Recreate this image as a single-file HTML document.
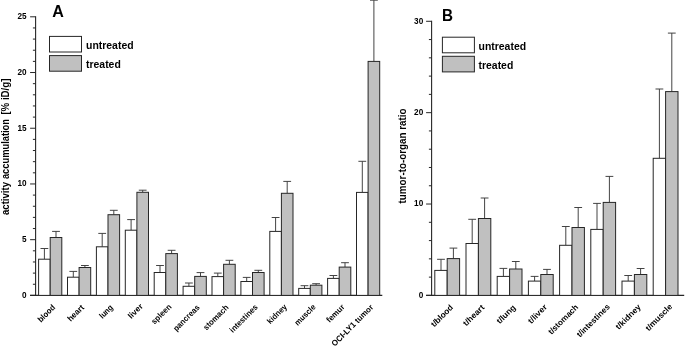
<!DOCTYPE html>
<html><head><meta charset="utf-8"><title>Figure</title>
<style>html,body{margin:0;padding:0;background:#fff}svg{display:block;filter:grayscale(1)}</style></head>
<body>
<svg width="685" height="347" viewBox="0 0 685 347" font-family="Liberation Sans, sans-serif" fill="#000">
<rect width="685" height="347" fill="#fff"/>
<path d="M35.6 16.3V295.4" stroke="#262626" stroke-width="1.1" fill="none"/>
<path d="M30.1 295.4H382.3" stroke="#262626" stroke-width="1.1" fill="none"/>
<path d="M30.1 295.4H35.6M32.9 284.26H35.6M32.9 273.11H35.6M32.9 261.97H35.6M32.9 250.82H35.6M30.1 239.68H35.6M32.9 228.54H35.6M32.9 217.39H35.6M32.9 206.25H35.6M32.9 195.1H35.6M30.1 183.96H35.6M32.9 172.82H35.6M32.9 161.67H35.6M32.9 150.53H35.6M32.9 139.38H35.6M30.1 128.24H35.6M32.9 117.1H35.6M32.9 105.95H35.6M32.9 94.81H35.6M32.9 83.66H35.6M30.1 72.52H35.6M32.9 61.38H35.6M32.9 50.23H35.6M32.9 39.09H35.6M32.9 27.94H35.6M30.1 16.8H35.6" stroke="#262626" stroke-width="1" fill="none"/>
<text x="26.6" y="297.75" text-anchor="end" font-size="8.2" font-weight="bold">0</text>
<text x="26.6" y="242.03" text-anchor="end" font-size="8.2" font-weight="bold">5</text>
<text x="26.6" y="186.31" text-anchor="end" font-size="8.2" font-weight="bold">10</text>
<text x="26.6" y="130.59" text-anchor="end" font-size="8.2" font-weight="bold">15</text>
<text x="26.6" y="74.87" text-anchor="end" font-size="8.2" font-weight="bold">20</text>
<text x="26.6" y="19.15" text-anchor="end" font-size="8.2" font-weight="bold">25</text>
<path d="M44.4 259.2V248.5M40.5 248.5H48.3" stroke="#3a3a3a" stroke-width="0.95" fill="none"/>
<rect x="38.6" y="259.2" width="11.6" height="36.2" fill="#fff" stroke="#262626" stroke-width="1"/>
<path d="M56 237.5V231.4M52.1 231.4H59.9" stroke="#3a3a3a" stroke-width="0.95" fill="none"/>
<rect x="50.2" y="237.5" width="11.6" height="57.9" fill="#c0c0c0" stroke="#262626" stroke-width="1"/>
<path d="M73.3 277.2V271.4M69.4 271.4H77.2" stroke="#3a3a3a" stroke-width="0.95" fill="none"/>
<rect x="67.5" y="277.2" width="11.6" height="18.2" fill="#fff" stroke="#262626" stroke-width="1"/>
<path d="M84.9 267.5V265.5M81 265.5H88.8" stroke="#3a3a3a" stroke-width="0.95" fill="none"/>
<rect x="79.1" y="267.5" width="11.6" height="27.9" fill="#c0c0c0" stroke="#262626" stroke-width="1"/>
<path d="M102.2 246.8V233.4M98.3 233.4H106.1" stroke="#3a3a3a" stroke-width="0.95" fill="none"/>
<rect x="96.4" y="246.8" width="11.6" height="48.6" fill="#fff" stroke="#262626" stroke-width="1"/>
<path d="M113.8 214.7V210.3M109.9 210.3H117.7" stroke="#3a3a3a" stroke-width="0.95" fill="none"/>
<rect x="108" y="214.7" width="11.6" height="80.7" fill="#c0c0c0" stroke="#262626" stroke-width="1"/>
<path d="M131.1 230.2V219.6M127.2 219.6H135" stroke="#3a3a3a" stroke-width="0.95" fill="none"/>
<rect x="125.3" y="230.2" width="11.6" height="65.2" fill="#fff" stroke="#262626" stroke-width="1"/>
<path d="M142.7 192.3V190.2M138.8 190.2H146.6" stroke="#3a3a3a" stroke-width="0.95" fill="none"/>
<rect x="136.9" y="192.3" width="11.6" height="103.1" fill="#c0c0c0" stroke="#262626" stroke-width="1"/>
<path d="M160 272.5V265.5M156.1 265.5H163.9" stroke="#3a3a3a" stroke-width="0.95" fill="none"/>
<rect x="154.2" y="272.5" width="11.6" height="22.9" fill="#fff" stroke="#262626" stroke-width="1"/>
<path d="M171.6 253.6V250.3M167.7 250.3H175.5" stroke="#3a3a3a" stroke-width="0.95" fill="none"/>
<rect x="165.8" y="253.6" width="11.6" height="41.8" fill="#c0c0c0" stroke="#262626" stroke-width="1"/>
<path d="M188.9 286.3V283M185 283H192.8" stroke="#3a3a3a" stroke-width="0.95" fill="none"/>
<rect x="183.1" y="286.3" width="11.6" height="9.1" fill="#fff" stroke="#262626" stroke-width="1"/>
<path d="M200.5 276.4V272.6M196.6 272.6H204.4" stroke="#3a3a3a" stroke-width="0.95" fill="none"/>
<rect x="194.7" y="276.4" width="11.6" height="19" fill="#c0c0c0" stroke="#262626" stroke-width="1"/>
<path d="M217.8 276.6V273.1M213.9 273.1H221.7" stroke="#3a3a3a" stroke-width="0.95" fill="none"/>
<rect x="212" y="276.6" width="11.6" height="18.8" fill="#fff" stroke="#262626" stroke-width="1"/>
<path d="M229.4 264.3V260.3M225.5 260.3H233.3" stroke="#3a3a3a" stroke-width="0.95" fill="none"/>
<rect x="223.6" y="264.3" width="11.6" height="31.1" fill="#c0c0c0" stroke="#262626" stroke-width="1"/>
<path d="M246.7 281.5V277.4M242.8 277.4H250.6" stroke="#3a3a3a" stroke-width="0.95" fill="none"/>
<rect x="240.9" y="281.5" width="11.6" height="13.9" fill="#fff" stroke="#262626" stroke-width="1"/>
<path d="M258.3 272.5V270.3M254.4 270.3H262.2" stroke="#3a3a3a" stroke-width="0.95" fill="none"/>
<rect x="252.5" y="272.5" width="11.6" height="22.9" fill="#c0c0c0" stroke="#262626" stroke-width="1"/>
<path d="M275.6 231.4V217.5M271.7 217.5H279.5" stroke="#3a3a3a" stroke-width="0.95" fill="none"/>
<rect x="269.8" y="231.4" width="11.6" height="64" fill="#fff" stroke="#262626" stroke-width="1"/>
<path d="M287.2 193.3V181.4M283.3 181.4H291.1" stroke="#3a3a3a" stroke-width="0.95" fill="none"/>
<rect x="281.4" y="193.3" width="11.6" height="102.1" fill="#c0c0c0" stroke="#262626" stroke-width="1"/>
<path d="M304.5 288.4V285.7M300.6 285.7H308.4" stroke="#3a3a3a" stroke-width="0.95" fill="none"/>
<rect x="298.7" y="288.4" width="11.6" height="7" fill="#fff" stroke="#262626" stroke-width="1"/>
<path d="M316.1 285.2V283.7M312.2 283.7H320" stroke="#3a3a3a" stroke-width="0.95" fill="none"/>
<rect x="310.3" y="285.2" width="11.6" height="10.2" fill="#c0c0c0" stroke="#262626" stroke-width="1"/>
<path d="M333.4 278.4V275.5M329.5 275.5H337.3" stroke="#3a3a3a" stroke-width="0.95" fill="none"/>
<rect x="327.6" y="278.4" width="11.6" height="17" fill="#fff" stroke="#262626" stroke-width="1"/>
<path d="M345 267.1V262.7M341.1 262.7H348.9" stroke="#3a3a3a" stroke-width="0.95" fill="none"/>
<rect x="339.2" y="267.1" width="11.6" height="28.3" fill="#c0c0c0" stroke="#262626" stroke-width="1"/>
<path d="M362.3 192.4V161.3M358.4 161.3H366.2" stroke="#3a3a3a" stroke-width="0.95" fill="none"/>
<rect x="356.5" y="192.4" width="11.6" height="103" fill="#fff" stroke="#262626" stroke-width="1"/>
<path d="M373.9 61.4V0.2M370 0.2H377.8" stroke="#3a3a3a" stroke-width="0.95" fill="none"/>
<rect x="368.1" y="61.4" width="11.6" height="234" fill="#c0c0c0" stroke="#262626" stroke-width="1"/>
<text transform="translate(55.7 308) rotate(-45)" text-anchor="end" font-size="8.2" font-weight="bold" textLength="20.85" lengthAdjust="spacingAndGlyphs">blood</text>
<text transform="translate(84.6 308) rotate(-45)" text-anchor="end" font-size="8.2" font-weight="bold" textLength="19.75" lengthAdjust="spacingAndGlyphs">heart</text>
<text transform="translate(113.5 308) rotate(-45)" text-anchor="end" font-size="8.2" font-weight="bold" textLength="15.61" lengthAdjust="spacingAndGlyphs">lung</text>
<text transform="translate(143.46 306.94) rotate(-45)" text-anchor="end" font-size="8.2" font-weight="bold" textLength="17.36" lengthAdjust="spacingAndGlyphs">liver</text>
<text transform="translate(172.01 307.29) rotate(-45)" text-anchor="end" font-size="8.2" font-weight="bold" textLength="24.71" lengthAdjust="spacingAndGlyphs">spleen</text>
<text transform="translate(200.2 308) rotate(-45)" text-anchor="end" font-size="8.2" font-weight="bold" textLength="33.51" lengthAdjust="spacingAndGlyphs">pancreas</text>
<text transform="translate(229.1 308) rotate(-45)" text-anchor="end" font-size="8.2" font-weight="bold" textLength="32.05" lengthAdjust="spacingAndGlyphs">stomach</text>
<text transform="translate(258.35 307.65) rotate(-45)" text-anchor="end" font-size="8.2" font-weight="bold" textLength="36.06" lengthAdjust="spacingAndGlyphs">intestines</text>
<text transform="translate(287.39 307.51) rotate(-45)" text-anchor="end" font-size="8.2" font-weight="bold" textLength="24.16" lengthAdjust="spacingAndGlyphs">kidney</text>
<text transform="translate(316.15 307.65) rotate(-45)" text-anchor="end" font-size="8.2" font-weight="bold" textLength="25.87" lengthAdjust="spacingAndGlyphs">muscle</text>
<text transform="translate(345.12 307.58) rotate(-45)" text-anchor="end" font-size="8.2" font-weight="bold" textLength="21.96" lengthAdjust="spacingAndGlyphs">femur</text>
<text transform="translate(373.81 307.79) rotate(-45)" text-anchor="end" font-size="8.2" font-weight="bold" textLength="55.08" lengthAdjust="spacingAndGlyphs">OCI-LY1 tumor</text>
<path d="M431.6 20.8V295.4" stroke="#262626" stroke-width="1.1" fill="none"/>
<path d="M426.1 295.4H684.2" stroke="#262626" stroke-width="1.1" fill="none"/>
<path d="M426.1 295.4H431.6M428.9 277.13H431.6M428.9 258.85H431.6M428.9 240.58H431.6M428.9 222.3H431.6M426.1 204.03H431.6M428.9 185.76H431.6M428.9 167.48H431.6M428.9 149.21H431.6M428.9 130.93H431.6M426.1 112.66H431.6M428.9 94.39H431.6M428.9 76.11H431.6M428.9 57.84H431.6M428.9 39.56H431.6M426.1 21.29H431.6" stroke="#262626" stroke-width="1" fill="none"/>
<text x="423.2" y="297.75" text-anchor="end" font-size="8.2" font-weight="bold">0</text>
<text x="423.2" y="206.38" text-anchor="end" font-size="8.2" font-weight="bold">10</text>
<text x="423.2" y="115.01" text-anchor="end" font-size="8.2" font-weight="bold">20</text>
<text x="423.2" y="23.64" text-anchor="end" font-size="8.2" font-weight="bold">30</text>
<path d="M441 270.4V259.3M437.1 259.3H444.9" stroke="#3a3a3a" stroke-width="0.95" fill="none"/>
<rect x="434.8" y="270.4" width="12.4" height="25" fill="#fff" stroke="#262626" stroke-width="1"/>
<path d="M453.4 258.6V248.1M449.5 248.1H457.3" stroke="#3a3a3a" stroke-width="0.95" fill="none"/>
<rect x="447.2" y="258.6" width="12.4" height="36.8" fill="#c0c0c0" stroke="#262626" stroke-width="1"/>
<path d="M472.2 243.5V219.3M468.3 219.3H476.1" stroke="#3a3a3a" stroke-width="0.95" fill="none"/>
<rect x="466" y="243.5" width="12.4" height="51.9" fill="#fff" stroke="#262626" stroke-width="1"/>
<path d="M484.6 218.5V198M480.7 198H488.5" stroke="#3a3a3a" stroke-width="0.95" fill="none"/>
<rect x="478.4" y="218.5" width="12.4" height="76.9" fill="#c0c0c0" stroke="#262626" stroke-width="1"/>
<path d="M503.4 276.4V268.4M499.5 268.4H507.3" stroke="#3a3a3a" stroke-width="0.95" fill="none"/>
<rect x="497.2" y="276.4" width="12.4" height="19" fill="#fff" stroke="#262626" stroke-width="1"/>
<path d="M515.8 269V261.5M511.9 261.5H519.7" stroke="#3a3a3a" stroke-width="0.95" fill="none"/>
<rect x="509.6" y="269" width="12.4" height="26.4" fill="#c0c0c0" stroke="#262626" stroke-width="1"/>
<path d="M534.6 281.1V276.4M530.7 276.4H538.5" stroke="#3a3a3a" stroke-width="0.95" fill="none"/>
<rect x="528.4" y="281.1" width="12.4" height="14.3" fill="#fff" stroke="#262626" stroke-width="1"/>
<path d="M547 274.5V269.4M543.1 269.4H550.9" stroke="#3a3a3a" stroke-width="0.95" fill="none"/>
<rect x="540.8" y="274.5" width="12.4" height="20.9" fill="#c0c0c0" stroke="#262626" stroke-width="1"/>
<path d="M565.8 245.3V226.5M561.9 226.5H569.7" stroke="#3a3a3a" stroke-width="0.95" fill="none"/>
<rect x="559.6" y="245.3" width="12.4" height="50.1" fill="#fff" stroke="#262626" stroke-width="1"/>
<path d="M578.2 227.5V207.5M574.3 207.5H582.1" stroke="#3a3a3a" stroke-width="0.95" fill="none"/>
<rect x="572" y="227.5" width="12.4" height="67.9" fill="#c0c0c0" stroke="#262626" stroke-width="1"/>
<path d="M597 229.4V203.4M593.1 203.4H600.9" stroke="#3a3a3a" stroke-width="0.95" fill="none"/>
<rect x="590.8" y="229.4" width="12.4" height="66" fill="#fff" stroke="#262626" stroke-width="1"/>
<path d="M609.4 202.4V176.4M605.5 176.4H613.3" stroke="#3a3a3a" stroke-width="0.95" fill="none"/>
<rect x="603.2" y="202.4" width="12.4" height="93" fill="#c0c0c0" stroke="#262626" stroke-width="1"/>
<path d="M628.2 281.1V275.5M624.3 275.5H632.1" stroke="#3a3a3a" stroke-width="0.95" fill="none"/>
<rect x="622" y="281.1" width="12.4" height="14.3" fill="#fff" stroke="#262626" stroke-width="1"/>
<path d="M640.6 274.5V268.5M636.7 268.5H644.5" stroke="#3a3a3a" stroke-width="0.95" fill="none"/>
<rect x="634.4" y="274.5" width="12.4" height="20.9" fill="#c0c0c0" stroke="#262626" stroke-width="1"/>
<path d="M659.4 158.3V89M655.5 89H663.3" stroke="#3a3a3a" stroke-width="0.95" fill="none"/>
<rect x="653.2" y="158.3" width="12.4" height="137.1" fill="#fff" stroke="#262626" stroke-width="1"/>
<path d="M671.8 91.6V33.1M667.9 33.1H675.7" stroke="#3a3a3a" stroke-width="0.95" fill="none"/>
<rect x="665.6" y="91.6" width="12.4" height="203.8" fill="#c0c0c0" stroke="#262626" stroke-width="1"/>
<text transform="translate(453.7 308) rotate(-45)" text-anchor="end" font-size="8.2" font-weight="bold" textLength="27.61" lengthAdjust="spacingAndGlyphs">t/blood</text>
<text transform="translate(484.9 308) rotate(-45)" text-anchor="end" font-size="8.2" font-weight="bold" textLength="26.21" lengthAdjust="spacingAndGlyphs">t/heart</text>
<text transform="translate(516.1 308) rotate(-45)" text-anchor="end" font-size="8.2" font-weight="bold" textLength="23.17" lengthAdjust="spacingAndGlyphs">t/lung</text>
<text transform="translate(547.65 307.65) rotate(-45)" text-anchor="end" font-size="8.2" font-weight="bold" textLength="23.32" lengthAdjust="spacingAndGlyphs">t/liver</text>
<text transform="translate(578.85 307.65) rotate(-45)" text-anchor="end" font-size="8.2" font-weight="bold" textLength="38.61" lengthAdjust="spacingAndGlyphs">t/stomach</text>
<text transform="translate(610.41 307.29) rotate(-45)" text-anchor="end" font-size="8.2" font-weight="bold" textLength="43.12" lengthAdjust="spacingAndGlyphs">t/intestines</text>
<text transform="translate(641.39 307.51) rotate(-45)" text-anchor="end" font-size="8.2" font-weight="bold" textLength="31.92" lengthAdjust="spacingAndGlyphs">t/kidney</text>
<text transform="translate(672.81 307.29) rotate(-45)" text-anchor="end" font-size="8.2" font-weight="bold" textLength="34.13" lengthAdjust="spacingAndGlyphs">t/muscle</text>
<text x="52.3" y="16.9" font-size="16.6" font-weight="bold" textLength="11.6" lengthAdjust="spacingAndGlyphs">A</text>
<text x="441.9" y="21.2" font-size="16.6" font-weight="bold" textLength="11" lengthAdjust="spacingAndGlyphs">B</text>
<rect x="49.5" y="36.4" width="32" height="15.6" fill="#fff" stroke="#262626" stroke-width="1"/>
<rect x="49.5" y="55.6" width="32" height="15.6" fill="#c0c0c0" stroke="#262626" stroke-width="1"/>
<text x="86" y="49.2" font-size="11.2" font-weight="bold" textLength="47.6" lengthAdjust="spacingAndGlyphs">untreated</text>
<text x="86" y="68.1" font-size="11.2" font-weight="bold" textLength="34.8" lengthAdjust="spacingAndGlyphs">treated</text>
<rect x="442.4" y="37.2" width="32" height="15.6" fill="#fff" stroke="#262626" stroke-width="1"/>
<rect x="442.4" y="56.3" width="32" height="15.6" fill="#c0c0c0" stroke="#262626" stroke-width="1"/>
<text x="478.5" y="50" font-size="11.2" font-weight="bold" textLength="47.6" lengthAdjust="spacingAndGlyphs">untreated</text>
<text x="478.5" y="68.6" font-size="11.2" font-weight="bold" textLength="34.8" lengthAdjust="spacingAndGlyphs">treated</text>
<text transform="translate(8.9 215.0) rotate(-90)" font-size="11.2" font-weight="bold" textLength="33.0" lengthAdjust="spacingAndGlyphs">activity</text>
<text transform="translate(8.9 179.1) rotate(-90)" font-size="11.2" font-weight="bold" textLength="60.1" lengthAdjust="spacingAndGlyphs">accumulation</text>
<text transform="translate(8.9 114.6) rotate(-90)" font-size="11.2" font-weight="bold" textLength="36.0" lengthAdjust="spacingAndGlyphs">[% iD/g]</text>
<text transform="translate(405.7 203.4) rotate(-90)" font-size="11.2" font-weight="bold" textLength="94.9" lengthAdjust="spacingAndGlyphs">tumor-to-organ ratio</text>
</svg>
</body></html>
